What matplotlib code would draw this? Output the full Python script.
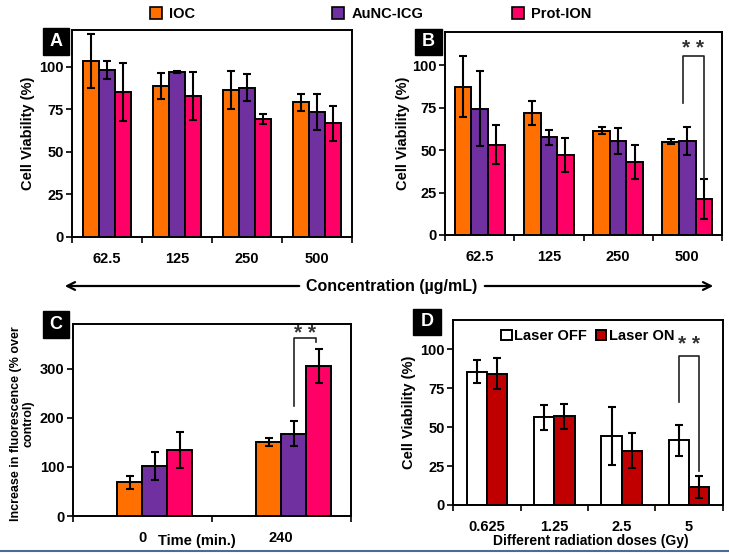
import numpy as np
import matplotlib
matplotlib.use("Agg")
import matplotlib.pyplot as plt
from matplotlib.patches import Patch, Rectangle, FancyArrowPatch
from matplotlib.lines import Line2D

plt.rcParams['font.family'] = ['Liberation Sans', 'DejaVu Sans']
plt.rcParams['font.weight'] = 'bold'

W, H = 729, 555

# ---- data ----
series = ["IOC", "AuNC-ICG", "Prot-ION"]
colors = ["#FF7000", "#7030A0", "#FF0066"]

conc = ["62.5", "125", "250", "500"]
a_vals = [[103.5, 88.6, 86.3, 79.0],
          [98.0, 96.7, 87.6, 73.5],
          [85.0, 82.7, 69.2, 66.7]]
a_err = [[15.8, 7.5, 11.0, 5.0],
         [5.4, 0.5, 8.0, 10.6],
         [17.0, 14.0, 3.0, 10.3]]

b_vals = [[87.3, 71.8, 61.4, 54.9],
          [74.3, 57.5, 55.3, 55.3],
          [53.1, 46.9, 42.7, 21.2]]
b_err = [[18.0, 7.0, 2.0, 1.5],
         [22.0, 4.4, 7.5, 8.3],
         [11.4, 10.0, 10.0, 11.7]]

times = ["0", "240"]
c_vals = [[68.6, 150.7],
          [101.8, 167.7],
          [134.4, 305.5]]
c_err = [[13.0, 7.5],
         [29.0, 25.0],
         [36.0, 34.0]]

doses = ["0.625", "1.25", "2.5", "5"]
laser = ["Laser OFF", "Laser ON"]
laser_colors = ["white", "#C00000"]
d_vals = [[85.6, 56.3, 44.3, 41.5],
          [84.3, 56.8, 34.8, 11.8]]
d_err = [[7.6, 8.0, 18.8, 9.8],
         [10.0, 7.8, 11.3, 7.0]]


def px_axes(fig, left, top, right, bottom):
    return fig.add_axes([left / W, 1 - bottom / H, (right - left) / W, (bottom - top) / H])


def style_axes(ax, ncat, ymax, yticks, labels):
    ax.set_xlim(-0.5, ncat - 0.5)
    ax.set_ylim(0, ymax)
    ax.set_yticks(yticks)
    ax.set_xticks(range(ncat))
    ax.set_xticklabels(labels)
    ax.set_xticks(np.arange(ncat + 1) - 0.5, minor=True)
    ax.tick_params(axis='x', which='major', length=0, pad=11, labelsize=10.5)
    ax.tick_params(axis='x', which='minor', length=4, width=1.2, direction='out')
    ax.tick_params(axis='y', length=4, width=1.2, direction='out', labelsize=10.5, pad=2)
    for s in ax.spines.values():
        s.set_linewidth(1.4)
    for lab in ax.get_xticklabels() + ax.get_yticklabels():
        lab.set_fontweight('bold')


def draw_bars(ax, vals, errs, cols, width, offsets):
    x = np.arange(len(vals[0]))
    for v, e, c, off in zip(vals, errs, cols, offsets):
        ax.bar(x + off, v, width, color=c, edgecolor='black', linewidth=1.4,
               yerr=e, error_kw=dict(ecolor='black', elinewidth=1.5, capsize=3, capthick=1.5))


def bracket(ax, x1, x2, y1, y2, top, star_y):
    ax.plot([x1, x1, x2, x2], [y1, top, top, y2], color='#222222', lw=1.2)
    ax.text((x1 + x2) / 2, star_y, '* *', ha='center', va='center', fontsize=15,
            fontweight='bold', color='#333333')


def letter(fig, x, y, w, h, s):
    fig.add_artist(Rectangle((x / W, 1 - (y + h) / H), w / W, h / H,
                             transform=fig.transFigure, color='black'))
    fig.text((x + w / 2) / W, 1 - (y + h / 2) / H, s, color='white', fontsize=13,
             fontweight='bold', ha='center', va='center')


fig = plt.figure(figsize=(W / 100, H / 100), dpi=100)

# Panel A
wa = 0.23
axA = px_axes(fig, 72, 30, 352, 236.7)
draw_bars(axA, a_vals, a_err, colors, wa, [-wa, 0, wa])
style_axes(axA, 4, 121.6, [0, 25, 50, 75, 100], conc)
axA.set_ylabel("Cell Viability (%)", fontsize=10.5, fontweight='bold')
axA.yaxis.set_label_coords((35 - 72) / 280, 0.5)

# Panel B
wb = 0.24
axB = px_axes(fig, 445, 31.7, 722, 235)
draw_bars(axB, b_vals, b_err, colors, wb, [-wb, 0, wb])
style_axes(axB, 4, 119.6, [0, 25, 50, 75, 100], conc)
axB.set_ylabel("Cell Viability (%)", fontsize=10.5, fontweight='bold')
axB.yaxis.set_label_coords((410 - 445) / 277, 0.5)
bracket(axB, 3 - 0.07, 3 + wb, 77.5, 33, 105.3, 110)

# Panel C (bars shifted: an empty first slot in the group)
wc = 0.18
axC = px_axes(fig, 72.5, 324, 350.7, 516)
draw_bars(axC, c_vals, c_err, colors, wc, [-0.5 * wc, 0.5 * wc, 1.5 * wc])
style_axes(axC, 2, 391, [0, 100, 200, 300], times)
axC.set_ylabel("Increase in fluorescence (% over\ncontrol)", fontsize=9,
               fontweight='bold', linespacing=1.1)
axC.yaxis.set_label_coords((35 - 72.5) / 278, 0.48)
bracket(axC, 1 + 0.5 * wc, 1 + 1.4 * wc, 224, 355, 362, 372)
fig.text(197 / W, 1 - 541 / H, "Time (min.)", ha='center', va='center',
         fontsize=10.5, fontweight='bold')

# Panel D
wd = 0.3
axD = px_axes(fig, 453.3, 320, 722.7, 505)
x = np.arange(len(doses))
for v, e, c, off, lab in zip(d_vals, d_err, laser_colors, [-wd / 2, wd / 2], laser):
    axD.bar(x + off, v, wd, color=c, edgecolor='black', linewidth=1.4, label=lab,
            yerr=e, error_kw=dict(ecolor='black', elinewidth=1.5, capsize=3, capthick=1.5))
style_axes(axD, 4, 118.7, [0, 25, 50, 75, 100], doses)
axD.set_ylabel("Cell Viability (%)", fontsize=10.5, fontweight='bold')
axD.yaxis.set_label_coords((416 - 453.3) / 269.4, 0.5)
axD.legend(ncol=2, loc='upper center', bbox_to_anchor=(0.5, 1.02), frameon=False,
           handlelength=0.7, handleheight=0.7, handletextpad=0.2, columnspacing=0.6,
           prop=dict(size=10.5, weight='bold'))
bracket(axD, 3 - wd / 2, 3 + wd / 2, 66, 21.5, 95.7, 103)
fig.text(591 / W, 1 - 541 / H, "Different radiation doses (Gy)", ha='center', va='center',
         fontsize=10, fontweight='bold')

# top legend
for name, c, xpos in zip(series, colors, [143, 325, 505]):
    fig.legend(handles=[Patch(facecolor=c, edgecolor='black', linewidth=1.2, label=name)],
               loc='center left', bbox_to_anchor=(xpos / W, 1 - 14 / H), frameon=False,
               handlelength=0.8, handleheight=0.8, handletextpad=0.5, borderpad=0,
               prop=dict(size=10.5, weight='bold'))

# panel letters
letter(fig, 43, 28, 26, 27, "A")
letter(fig, 415, 29, 27, 26, "B")
letter(fig, 43, 311, 26, 27, "C")
letter(fig, 413, 309, 28, 26, "D")

# concentration arrow
ya = 1 - 286 / H
fig.add_artist(FancyArrowPatch((302 / W, ya), (62 / W, ya), transform=fig.transFigure,
                               arrowstyle='->', mutation_scale=14, lw=1.6, color='black'))
fig.add_artist(FancyArrowPatch((482 / W, ya), (716 / W, ya), transform=fig.transFigure,
                               arrowstyle='->', mutation_scale=14, lw=1.6, color='black'))
fig.text(392 / W, ya, "Concentration (\u00b5g/mL)", ha='center', va='center', fontsize=11.5,
         fontweight='bold')

# bottom rule
fig.add_artist(Line2D([0, 1], [1 - 551 / H, 1 - 551 / H], transform=fig.transFigure,
                      color='#4a6a9a', lw=1.5))

fig.savefig("out.png", dpi=100)
